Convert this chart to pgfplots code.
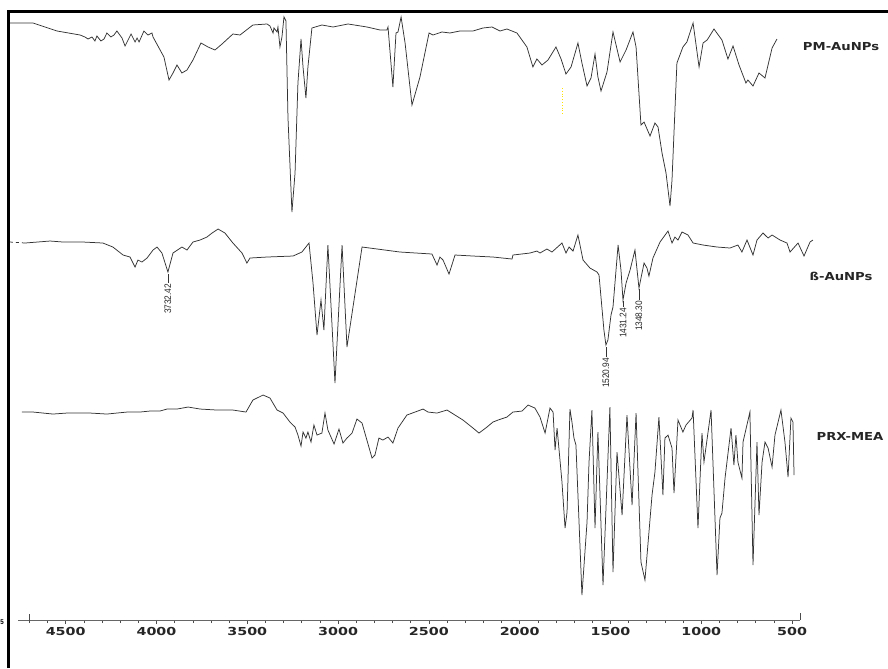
\documentclass[border=0pt]{standalone}
\usepackage{fontspec}
\usepackage{pgfplots}
\pgfplotsset{compat=1.18}
\newfontfamily\lblfont[FakeStretch=1.2]{DejaVu Sans}
\newfontfamily\tickfont[FakeStretch=1.3]{DejaVu Sans}
\newfontfamily\annfont[FakeStretch=0.88]{Liberation Sans}
\begin{document}
\begin{tikzpicture}
\begin{axis}[
  scale only axis, width=782pt, height=608pt,
  xmin=456, xmax=4763, ymin=-620, ymax=-12,
  x dir=reverse,
  axis x line*=bottom, axis y line=none,
  xtick={500,1000,...,4500},
  minor xtick={500,600,...,4700},
  tick align=outside,
  major tick length=4pt, minor tick length=3pt,
  tick style={black!70, line width=0.6pt},
  axis line style={black!60, line width=0.8pt},
  xticklabel style={font=\tickfont\bfseries\fontsize{11}{12}\selectfont, text=black!85},
  /pgf/number format/assume math mode=true,
  /pgf/number format/set thousands separator={},
  clip=false,
]
% PM-AuNPs
\addplot[black!80, line width=0.75pt] coordinates {
(4807,-23)(4680,-23)(4548,-31)(4421,-35)(4394,-37)(4377,-39)(4355,-37)(4339,-41)(4328,-36)(4306,-41)(4289,-39)(4273,-33)(4251,-37)(4234,-35)(4218,-31)(4190,-38)(4173,-46)(4140,-34)(4118,-42)(4107,-38)(4096,-42)(4069,-31)(4047,-35)(4025,-33)(4019,-37)(3986,-48)(3959,-57)(3931,-80)(3909,-73)(3887,-65)(3860,-73)(3832,-70)(3799,-60)(3755,-43)(3716,-47)(3678,-50)(3639,-44)(3579,-34)(3540,-35)(3469,-25)(3391,-24)(3375,-26)(3358,-33)(3353,-28)(3336,-32)(3331,-27)(3320,-47)(3309,-37)(3298,-17)(3287,-21)(3276,-117)(3254,-212)(3237,-173)(3221,-83)(3204,-39)(3193,-67)(3177,-98)(3166,-67)(3144,-28)(3089,-25)(3028,-27)(2945,-24)(2841,-27)(2769,-30)(2731,-30)(2725,-27)(2698,-87)(2681,-33)(2670,-32)(2653,-17)(2631,-43)(2593,-105)(2549,-77)(2499,-33)(2477,-35)(2428,-32)(2384,-33)(2329,-31)(2257,-31)(2202,-28)(2152,-27)(2108,-31)(2070,-29)(2015,-33)(1960,-47)(1927,-67)(1905,-59)(1877,-65)(1844,-60)(1800,-47)(1772,-59)(1745,-74)(1717,-67)(1679,-43)(1657,-63)(1629,-86)(1607,-78)(1585,-54)(1569,-77)(1552,-91)(1519,-72)(1486,-32)(1447,-62)(1414,-50)(1376,-32)(1359,-47)(1332,-125)(1315,-122)(1282,-136)(1255,-123)(1238,-127)(1216,-153)(1194,-173)(1172,-206)(1161,-180)(1134,-63)(1101,-47)(1079,-42)(1045,-23)(1012,-67)(990,-43)(968,-40)(957,-37)(930,-29)(886,-40)(853,-59)(825,-46)(792,-65)(754,-83)(743,-80)(715,-86)(682,-73)(649,-78)(610,-48)(583,-39)
};
% beta-AuNPs
\addplot[black!80, line width=0.75pt, dashed] coordinates {(4807,-242)(4724,-243)};
\addplot[black!80, line width=0.75pt] coordinates {
(4724,-243)(4586,-241)(4515,-242)(4405,-242)(4295,-243)(4240,-247)(4184,-255)(4146,-257)(4118,-267)(4102,-260)(4080,-262)(4052,-258)(4019,-250)(3997,-247)(3970,-253)(3937,-272)(3909,-253)(3860,-247)(3832,-250)(3799,-242)(3760,-240)(3722,-237)(3694,-233)(3661,-229)(3623,-233)(3579,-243)(3529,-253)(3502,-263)(3485,-258)(3391,-257)(3248,-256)(3199,-252)(3160,-243)(3138,-283)(3116,-335)(3094,-300)(3078,-330)(3056,-245)(3017,-383)(2978,-245)(2951,-347)(2868,-247)(2659,-252)(2483,-254)(2455,-265)(2439,-257)(2422,-260)(2389,-274)(2356,-255)(2257,-256)(2147,-257)(2042,-259)(2037,-255)(1943,-253)(1905,-251)(1888,-253)(1850,-249)(1822,-252)(1767,-243)(1745,-253)(1728,-247)(1706,-251)(1679,-235)(1651,-260)(1613,-268)(1574,-272)(1563,-275)(1536,-330)(1525,-345)(1514,-340)(1497,-315)(1486,-307)(1458,-245)(1442,-270)(1431,-300)(1414,-283)(1392,-270)(1365,-250)(1343,-288)(1315,-263)(1299,-268)(1288,-276)(1266,-258)(1227,-242)(1183,-231)(1161,-243)(1145,-237)(1128,-240)(1106,-232)(1073,-235)(1045,-243)(990,-245)(913,-247)(842,-248)(798,-245)(776,-252)(748,-240)(715,-255)(693,-240)(660,-233)(632,-238)(610,-235)(566,-240)(528,-243)(511,-252)(467,-243)(434,-256)(401,-242)(385,-240)
};
% PRX-MEA
\addplot[black!80, line width=0.75pt] coordinates {
(4741,-412)(4680,-412)(4570,-414)(4493,-413)(4366,-413)(4273,-414)(4162,-412)(4091,-412)(4036,-411)(3981,-411)(3942,-409)(3887,-409)(3826,-407)(3760,-409)(3667,-410)(3579,-410)(3507,-412)(3469,-400)(3413,-395)(3375,-398)(3336,-410)(3303,-413)(3265,-422)(3237,-427)(3221,-435)(3204,-446)(3193,-432)(3177,-438)(3166,-432)(3149,-442)(3133,-425)(3116,-435)(3089,-433)(3072,-413)(3056,-430)(3022,-444)(2995,-429)(2973,-443)(2951,-438)(2923,-433)(2896,-419)(2868,-423)(2846,-437)(2813,-458)(2797,-455)(2775,-438)(2753,-440)(2725,-437)(2698,-443)(2670,-428)(2621,-415)(2576,-412)(2532,-409)(2505,-412)(2455,-413)(2400,-410)(2312,-420)(2257,-428)(2224,-433)(2180,-427)(2147,-422)(2119,-420)(2070,-417)(2037,-412)(1987,-411)(1954,-405)(1916,-408)(1888,-417)(1860,-433)(1833,-408)(1816,-412)(1805,-450)(1794,-428)(1767,-482)(1750,-528)(1739,-512)(1723,-409)(1712,-422)(1701,-438)(1690,-445)(1657,-595)(1629,-522)(1618,-462)(1602,-410)(1585,-528)(1569,-432)(1541,-585)(1503,-407)(1486,-572)(1464,-452)(1436,-515)(1409,-415)(1381,-505)(1359,-413)(1332,-562)(1310,-580)(1271,-495)(1255,-472)(1233,-417)(1211,-495)(1200,-438)(1183,-435)(1161,-448)(1150,-493)(1128,-420)(1101,-432)(1084,-425)(1051,-418)(1045,-410)(1018,-528)(996,-433)(985,-462)(946,-410)(913,-575)(897,-518)(886,-513)(869,-478)(836,-428)(820,-465)(809,-435)(798,-462)(776,-478)(770,-442)(732,-412)(715,-565)(693,-442)(682,-515)(665,-462)(649,-442)(632,-448)(610,-467)(594,-435)(561,-410)(539,-442)(522,-477)(506,-418)(495,-422)(489,-475)
};
% peak annotations
\draw[black!80, line width=0.6pt] (axis cs:3937,-274) -- (axis cs:3937,-283);
\node[font=\annfont\fontsize{9.5}{10}\selectfont, rotate=90, anchor=east, inner sep=0.5pt, text=black!85] at (axis cs:3937,-283) {3732.42};
\draw[black!80, line width=0.6pt] (axis cs:1525,-347) -- (axis cs:1525,-357);
\node[font=\annfont\fontsize{9.5}{10}\selectfont, rotate=90, anchor=east, inner sep=0.5pt, text=black!85] at (axis cs:1525,-357) {1520.94};
\draw[black!80, line width=0.6pt] (axis cs:1431,-301) -- (axis cs:1431,-307);
\node[font=\annfont\fontsize{9.5}{10}\selectfont, rotate=90, anchor=east, inner sep=0.5pt, text=black!85] at (axis cs:1431,-307) {1431.24};
\draw[black!80, line width=0.6pt] (axis cs:1343,-289) -- (axis cs:1343,-300);
\node[font=\annfont\fontsize{9.5}{10}\selectfont, rotate=90, anchor=east, inner sep=0.5pt, text=black!85] at (axis cs:1343,-300) {1348.30};
% series labels
\node[font=\lblfont\bfseries\fontsize{11}{12}\selectfont, text=black!85] at (axis cs:230,-47) {PM-AuNPs};
\node[font=\lblfont\bfseries\fontsize{11}{12}\selectfont, text=black!85] at (axis cs:230,-276) {ß-AuNPs};
\node[font=\lblfont\bfseries\fontsize{11}{12}\selectfont, text=black!85] at (axis cs:181,-436) {PRX-MEA};
% artefacts
\draw[yellow!85!orange, dotted, line width=0.8pt] (axis cs:1767,-88) -- (axis cs:1767,-115);
\draw[black!70, line width=0.6pt] (axis cs:4700,-614) -- (axis cs:4700,-623);
\draw[black!70, line width=0.6pt] (axis cs:456,-613) -- (axis cs:456,-620);
\node[font=\annfont\bfseries\fontsize{7}{8}\selectfont, anchor=west, inner sep=0pt] at (axis cs:4861,-622) {5};
% frame
\draw[black, line width=3pt] (axis cs:4815,-668) -- (axis cs:4815,-12) -- (axis cs:-28,-12);
\coordinate (bbA) at (axis cs:4861.8,-668);
\coordinate (bbB) at (axis cs:-28.4,0);
\end{axis}
\pgfresetboundingbox
\path[use as bounding box] (bbA) rectangle (bbB);
\end{tikzpicture}
\end{document}
